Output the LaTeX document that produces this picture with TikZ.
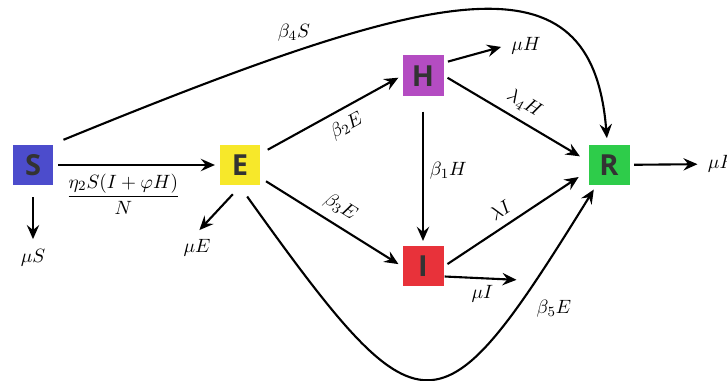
\documentclass[tikz,border=0pt]{standalone}
\usepackage{fontspec}
\usepackage{tikz}
\usetikzlibrary{arrows.meta}
\newfontfamily\boxfont{Open Sans}
\definecolor{Sblue}{RGB}{76,76,204}
\definecolor{Eyellow}{RGB}{247,232,42}
\definecolor{Hpurple}{RGB}{180,76,194}
\definecolor{Ired}{RGB}{232,50,58}
\definecolor{Rgreen}{RGB}{46,204,74}
\definecolor{BoxText}{RGB}{51,51,51}

\begin{document}
\begin{tikzpicture}[x=0.02cm, y=-0.02cm, very thick,
  font=\fontsize{10.95}{13}\selectfont,
  comp/.style={minimum size=0.82cm, inner sep=0pt, text=BoxText,
    font=\boxfont\fontsize{16.5}{16.5}\selectfont\bfseries},
  flow/.style={-{Stealth[length=8pt,width=7pt,inset=2.8pt]}, shorten <=2pt, shorten >=2pt}]
\useasboundingbox (0,0) rectangle (727,381);
% Compartments
    \node[comp, fill=Sblue] (S) at (33,165) {S};
    \node[comp, fill=Eyellow] (E) at (240,165) {E};
    \node[comp, fill=Hpurple] (H) at (423,76) {H};
    \node[comp, fill=Ired] (I) at (423,266) {I};
    \node[comp, fill=Rgreen] (R) at (609,165) {R};
% Natural deaths
    \node (muS) at (33,258) {$\mu S$};
    \node (muE) at (197,248) {$\mu E$};
    \node (muH) at (526,46) {$\mu H$};
    \node[anchor=west] (muR) at (701,164) {$\mu R$};
    \coordinate (muIend) at (520,280);
% From S
    \draw[flow] (S) -- (E) node[pos=0.42, below=1pt] (rate) {$\displaystyle\frac{\eta_2S(I+\varphi H)}{N}$};
    \draw[flow, shorten <=6pt] (S) -- (muS);
    \draw[flow, shorten <=5.5pt, shorten >=3pt] (S.north east) .. controls (442,-15) and (592,-50) .. (R)
        node[pos=0.24, above=2pt] (b4) {$\beta_4S$};
% From E
    \draw[flow, shorten <=6pt] (E.south) -- (muE.north);
    \draw[flow, shorten <=4pt] (E) -- (H.west) node[pos=0.55, sloped, below=1pt] (b2) {$\beta_2E$};
    \draw[flow, shorten <=3pt] (E) -- (I.west) node[midway, sloped, above=1pt] (b3) {$\beta_3E$};
    \draw[flow, shorten <=7pt] (E.south) .. controls (423,442) and (438,441) .. (R)
        node[pos=0.8, right=8pt] (b5) {$\beta_5E$};
% From H
    \draw[flow] (H.32) -- (muH.west);
    \draw[flow, shorten >=5pt] (H.east) -- (R.169) node[midway, sloped, above=1pt] (l4) {$\lambda_4H$};
    \draw[flow, shorten <=8pt] (H) -- (I) node[midway, right] (b1) {$\beta_1H$};
% From I
    \draw[flow, shorten >=6pt] (I.east) -- (R.196) node[pos=0.45, sloped, above=1pt] (lI) {$\lambda I$};
    \draw[flow, shorten <=0pt] (I.-26) -- (muIend) node[midway, below] (mI) {$\mu I$};
% From R
    \draw[flow] (R) -- (muR);
\end{tikzpicture}
\end{document}
